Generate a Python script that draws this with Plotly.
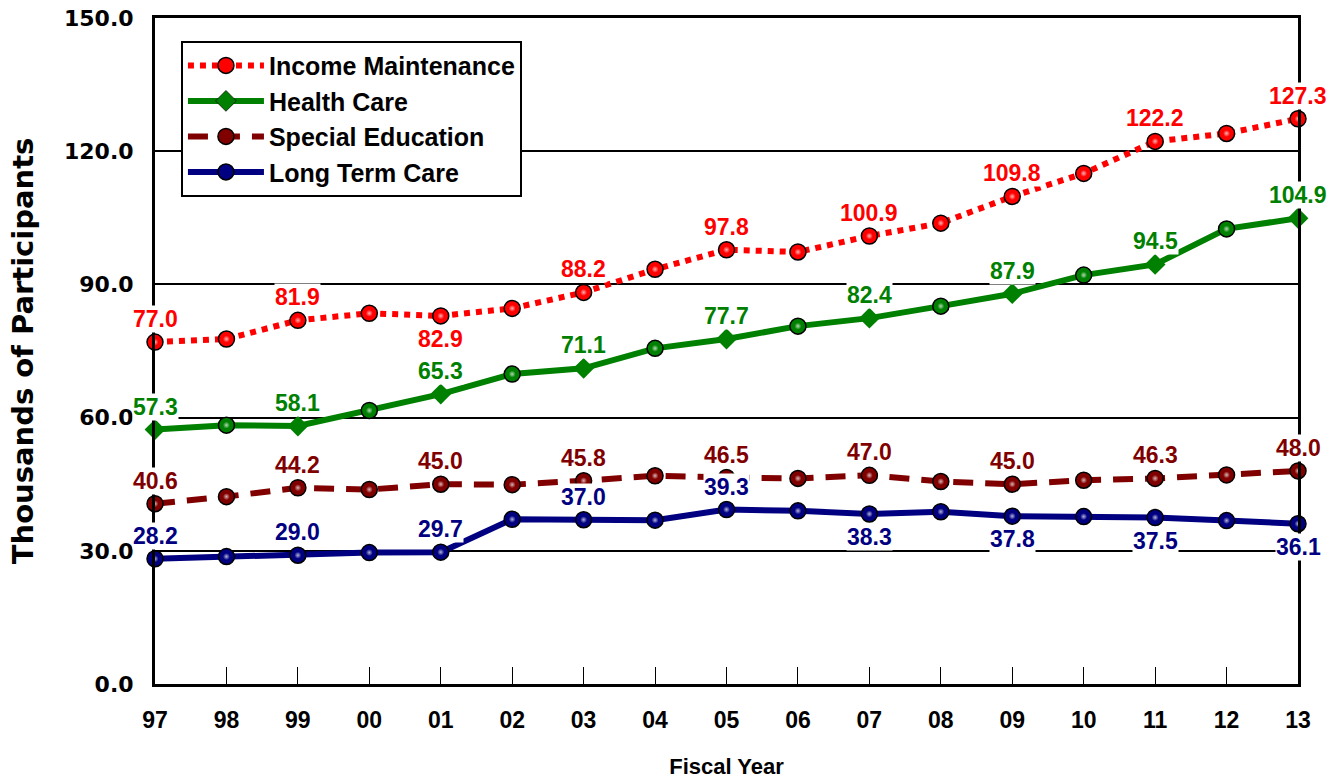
import plotly.graph_objects as go

years = ['97', '98', '99', '00', '01', '02', '03', '04', '05', '06', '07', '08', '09', '10', '11', '12', '13']
income = [77.0, 77.7, 81.9, 83.5, 82.9, 84.6, 88.2, 93.4, 97.8, 97.3, 100.9, 103.8, 109.8, 115.0, 122.2, 124.0, 127.3]
health = [57.3, 58.3, 58.1, 61.6, 65.3, 69.8, 71.1, 75.6, 77.7, 80.6, 82.4, 85.1, 87.9, 92.1, 94.5, 102.5, 104.9]
sped = [40.6, 42.2, 44.2, 43.8, 45.0, 44.9, 45.8, 46.9, 46.5, 46.3, 47.0, 45.6, 45.0, 45.9, 46.3, 47.1, 48.0]
ltc = [28.2, 28.7, 29.0, 29.6, 29.7, 37.1, 37.0, 36.9, 39.3, 39.0, 38.3, 38.8, 37.8, 37.7, 37.5, 36.8, 36.1]

series_names = ['Income Maintenance', 'Health Care', 'Special Education', 'Long Term Care']
y_ticks = [0, 30, 60, 90, 120, 150]

# labels every other year; which labels go below the point
below = {'Income Maintenance': {'01'}, 'Long Term Care': {'07', '09', '11', '13'}}

FONT = 'Arial, Liberation Sans, sans-serif'
styles = {
    'Income Maintenance': dict(color='#FF0000', dash='6px,6px', sym='circle'),
    'Health Care': dict(color='#008000', dash='solid', sym='mixed'),
    'Special Education': dict(color='#800000', dash='20px,12px', sym='circle'),
    'Long Term Care': dict(color='#000080', dash='solid', sym='circle'),
}
data = {'Income Maintenance': income, 'Health Care': health,
        'Special Education': sped, 'Long Term Care': ltc}

fig = go.Figure()
for name in series_names:
    st = styles[name]
    vals = data[name]
    n = len(vals)
    if st['sym'] == 'mixed':
        symbols = ['diamond' if i % 2 == 0 else 'circle' for i in range(n)]
        lw = [0 if i % 2 == 0 else 1.5 for i in range(n)]
        hl = [0 if i % 2 == 0 else 7 for i in range(n)]
    else:
        symbols = ['circle'] * n
        lw = [1.5] * n
        hl = [7] * n
    fig.add_trace(go.Scatter(
        x=years, y=vals, name=name, mode='lines+markers', cliponaxis=False,
        line=dict(color=st['color'], width=6, dash=st['dash']),
        marker=dict(symbol=symbols, size=16, color=st['color'],
                    line=dict(color='black', width=lw)),
    ))
    fig.add_trace(go.Scatter(
        x=years, y=vals, mode='markers', showlegend=False, cliponaxis=False,
        hoverinfo='skip',
        marker=dict(symbol='circle', size=hl, color=st['color'],
                    gradient=dict(type='radial', color='white'),
                    line=dict(width=0)),
    ))

annotations = []
for name in series_names:
    vals = data[name]
    for i in range(0, len(years), 2):
        yr = years[i]
        shift = -23 if yr in below.get(name, set()) else 23
        annotations.append(dict(
            x=i, y=vals[i], xref='x', yref='y', text=f'{vals[i]:.1f}',
            showarrow=False, yshift=shift, bgcolor='white', borderpad=0,
            font=dict(family=FONT, size=23, color=styles[name]['color'], weight='bold'),
        ))

fig.update_layout(
    width=1338, height=779,
    margin=dict(l=155, r=40, t=18, b=95),
    paper_bgcolor='white', plot_bgcolor='white',
    annotations=annotations,
    showlegend=True,
    legend=dict(
        x=0.0227, y=0.966, xanchor='left', yanchor='top',
        bgcolor='white', bordercolor='black', borderwidth=2,
        font=dict(family=FONT, size=25, color='black', weight='bold'),
        itemwidth=76, tracegroupgap=0,
    ),
    xaxis=dict(
        type='category', range=[0, 16], automargin=False,
        showline=True, linecolor='black', linewidth=3, mirror=True,
        showgrid=False, zeroline=False,
        ticks='inside', ticklen=17, tickwidth=1, tickcolor='black',
        ticklabelstandoff=13,
        tickfont=dict(family=FONT, size=23, color='black', weight='bold'),
        title=dict(text='Fiscal Year', standoff=29,
                   font=dict(family=FONT, size=22, color='black', weight='bold')),
    ),
    yaxis=dict(
        range=[0, 150], tickvals=y_ticks, automargin=False,
        ticktext=[f'{v:.1f}' for v in y_ticks],
        showline=True, linecolor='black', linewidth=3, mirror=True,
        showgrid=True, gridcolor='black', gridwidth=2, zeroline=False,
        ticks='inside', ticklen=6, tickwidth=2, tickcolor='black',
        ticklabelstandoff=14,
        tickfont=dict(family='DejaVu Sans', size=22, color='black', weight='bold'),
        title=dict(text='Thousands of Participants', standoff=22,
                   font=dict(family='DejaVu Sans', size=29, color='black', weight='bold')),
    ),
)

fig.write_html('out.html', config={'displayModeBar': False},
               post_script="document.body.style.margin='0';document.body.style.overflow='hidden';")
